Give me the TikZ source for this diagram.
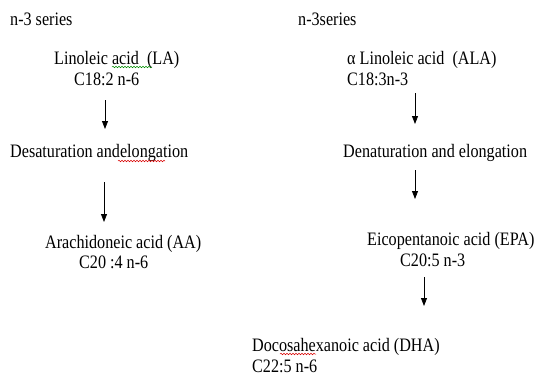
\documentclass[tikz,border=0pt]{standalone}
\usepackage{fontspec}
\setmainfont{Liberation Serif}[FakeStretch=0.85]
\usetikzlibrary{arrows.meta,decorations.pathmorphing}
\tikzset{
  lbl/.style={anchor=base west, inner sep=0pt, font=\fontsize{19bp}{21bp}\selectfont},
  flow/.style={line width=0.8bp, -{Triangle[length=8bp,width=6bp]}},
  redsq/.style={draw=red!85!black, line width=0.5bp, decorate, decoration={snake, amplitude=0.8bp, segment length=3bp}},
  greensq/.style={draw=green!55!black, line width=0.5bp, decorate, decoration={snake, amplitude=0.8bp, segment length=3bp}}
}
\begin{document}
\begin{tikzpicture}[x=1bp,y=-1bp]
\useasboundingbox (0,0) rectangle (542,376);
% left column
\node[lbl] (ls) at (10,25) {n-3 series};
\node[lbl] (la1) at (54,64) {Linoleic acid\ \ (LA)};
\node[lbl] (la2) at (74,85) {C18:2 n-6};
\node[lbl] (des) at (10,157) {Desaturation andelongation};
\node[lbl] (aa1) at (45,248) {Arachidoneic acid (AA)};
\node[lbl] (aa2) at (79,268) {C20 :4 n-6};
% right column
\node[lbl] (rs) at (298,25) {n-3series};
\node[lbl] (ala1) at (347,64) {α Linoleic acid\ \ (ALA)};
\node[lbl] (ala2) at (347,85) {C18:3n-3};
\node[lbl] (den) at (343,157) {Denaturation and elongation};
\node[lbl] (epa1) at (367,245) {Eicopentanoic acid (EPA)};
\node[lbl] (epa2) at (400,266) {C20:5 n-3};
\node[lbl] (dha1) at (252,351) {Docosahexanoic acid (DHA)};
\node[lbl] (dha2) at (252,372) {C22:5 n-6};
% arrow end points
\coordinate (a1s) at (105,100); \coordinate (a1e) at (105,129);
\coordinate (a2s) at (104,182); \coordinate (a2e) at (104,222);
\coordinate (b1s) at (415,93);  \coordinate (b1e) at (415,124);
\coordinate (b2s) at (415,170); \coordinate (b2e) at (415,199);
\coordinate (b3s) at (424,277); \coordinate (b3e) at (424,306);
\draw[flow] (a1s) -- (a1e);
\draw[flow] (a2s) -- (a2e);
\draw[flow] (b1s) -- (b1e);
\draw[flow] (b2s) -- (b2e);
\draw[flow] (b3s) -- (b3e);
% spell-check underlines
\coordinate (g1s) at (112,67); \coordinate (g1e) at (152,67);
\coordinate (r1s) at (118,161); \coordinate (r1e) at (165,161);
\coordinate (r2s) at (280,354); \coordinate (r2e) at (316,354);
\draw[greensq] (g1s) -- (g1e);
\draw[redsq] (r1s) -- (r1e);
\draw[redsq] (r2s) -- (r2e);
\end{tikzpicture}
\end{document}
